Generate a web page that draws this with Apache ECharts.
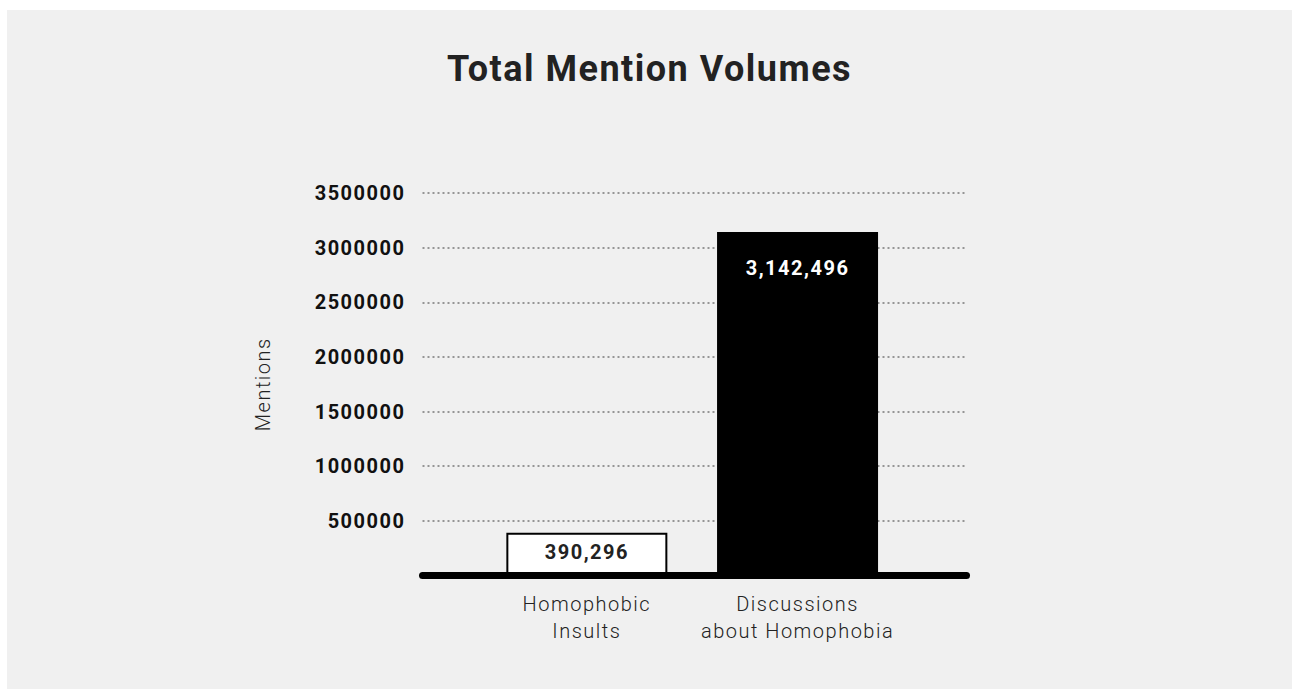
<!DOCTYPE html>
<html>
<head>
<meta charset="utf-8">
<script src="https://cdn.jsdelivr.net/npm/echarts@6/dist/echarts.min.js"></script>
<style>
html, body { margin: 0; padding: 0; background: #ffffff; }
#chart { width: 1292px; height: 689px; }
svg text { letter-spacing: 1.5px; }
</style>
</head>
<body>
<div id="chart"></div>
<script>
const titleText = 'Total Mention Volumes';
const categories = ['Homophobic\nInsults', 'Discussions\nabout Homophobia'];
const mentions = [390296, 3142496];
const yMin = 0;
const yMax = 3500000;
const yInterval = 500000;
const yAxisName = 'Mentions';

const chart = echarts.init(document.getElementById('chart'), null, { renderer: 'svg' });

const fmt = v => v.toLocaleString('en-US');

const option = {
  backgroundColor: '#ffffff',
  animation: false,
  graphic: [
    { type: 'rect', z: -10, silent: true, shape: { x: 7, y: 10, width: 1285, height: 679 }, style: { fill: '#f0f0f0' } },
    { type: 'text', x: 649.5, y: 69, z: 10, style: { text: titleText, textAlign: 'center', textVerticalAlign: 'middle', font: 'bold 36px Roboto', fill: '#222222' } }
  ],
  grid: [
    { left: 422.5, right: 325.5, top: 193, bottom: 113.5 },
    { left: 481.5, width: 421.4, top: 193, bottom: 113.5 }
  ],
  xAxis: [
    { gridIndex: 0, type: 'category', data: [''], z: 5,
      axisLine: { lineStyle: { color: '#000000', width: 7, cap: 'round' } },
      axisTick: { show: false }, axisLabel: { show: false }, splitLine: { show: false } },
    { gridIndex: 1, type: 'category', data: categories,
      axisLine: { show: false }, axisTick: { show: false },
      axisLabel: { interval: 0, margin: 15, fontSize: 20, fontWeight: 300, lineHeight: 27, color: '#222222', fontFamily: 'Roboto' } }
  ],
  yAxis: [
    { gridIndex: 0, type: 'value', min: yMin, max: yMax, interval: yInterval,
      name: yAxisName, nameLocation: 'middle', nameGap: 150, nameRotate: 90,
      nameTextStyle: { fontSize: 20, fontWeight: 300, color: '#222222', fontFamily: 'Roboto' },
      axisLine: { show: false }, axisTick: { show: false },
      axisLabel: { formatter: v => (v === 0 ? '' : String(v)), fontWeight: 'bold', fontSize: 20, color: '#111111', fontFamily: 'Roboto', margin: 17 },
      splitLine: { lineStyle: { type: [2, 3], width: 1.5, color: '#777777' } } },
    { gridIndex: 1, type: 'value', min: yMin, max: yMax, interval: yInterval, show: false }
  ],
  series: [
    {
      type: 'bar', xAxisIndex: 1, yAxisIndex: 1, barWidth: 161,
      data: [
        { value: mentions[0], itemStyle: { color: '#ffffff', borderColor: '#000000', borderWidth: 2 },
          label: { show: true, position: 'insideTop', distance: 9, formatter: p => fmt(p.value), fontWeight: 'bold', fontSize: 20, color: '#222222', fontFamily: 'Roboto' } },
        { value: mentions[1], itemStyle: { color: '#000000' },
          label: { show: true, position: 'insideTop', distance: 26, formatter: p => fmt(p.value), fontWeight: 'bold', fontSize: 20, color: '#ffffff', fontFamily: 'Roboto' } }
      ]
    }
  ]
};
chart.setOption(option);
</script>
</body>
</html>
